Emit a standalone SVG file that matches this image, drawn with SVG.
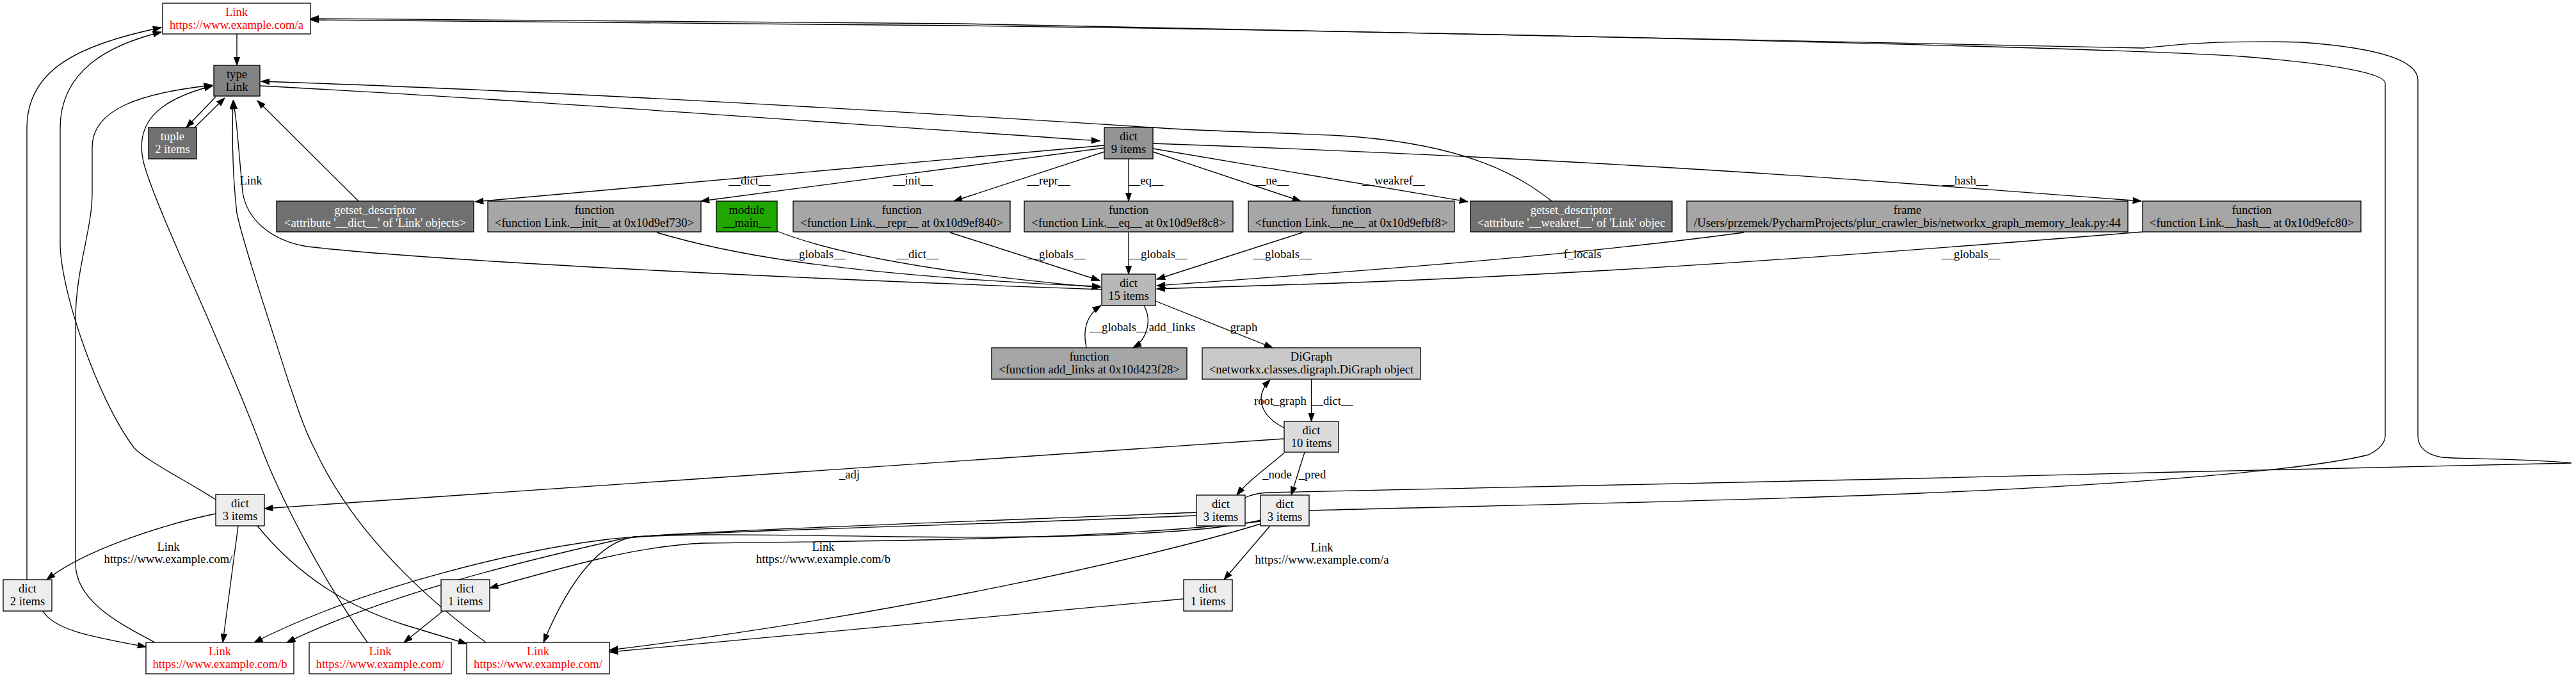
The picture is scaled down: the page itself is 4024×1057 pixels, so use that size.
<svg xmlns="http://www.w3.org/2000/svg" width="4024" height="1057" viewBox="0 0 4024 1057">
<style>
text{font-family:"Liberation Serif","Times New Roman",serif;font-size:18.67px;text-anchor:middle;fill:#000}
.n rect{stroke:#000;stroke-width:1.33}
.w text{fill:#fff}
.r text{fill:#f00}
.e path{fill:none;stroke:#000;stroke-width:1.33;marker-end:url(#ah)}
</style>
<defs>
<marker id="ah" viewBox="0 0 14 10" refX="13.3" refY="5" markerWidth="14" markerHeight="10" markerUnits="userSpaceOnUse" orient="auto"><path d="M0,0.33 L13.3,5 L0,9.67z" fill="#000" stroke="#000" stroke-width="1"/></marker>
</defs>
<rect width="4024" height="1057" fill="#fff"/>
<g id="connectors" class="e">
<path d="M370,53 L370,102"/>
<path d="M337,151 L291,199"/>
<path d="M304,199 L351,153"/>
<path d="M560,314 L402,157"/>
<path d="M2424,314 C2380,280 2300,225 2096,212 C1950,205 1880,205 1800,199 C1500,180 900,143 408,127"/>
<path d="M406,134 C800,155 1200,185 1718,220"/>
<path d="M1721,452 C1300,437 700,410 480,385 C420,375 385,340 379,300 L370,200 C368,180 366,170 365,157"/>
<path d="M759,1003 C700,960 560,850 491,700 C470,660 460,620 452,600 C420,500 380,380 370,333 C364,280 362,220 364,157"/>
<path d="M574,1003 C500,900 430,760 405,690 C340,520 250,340 226,260 C206,190 250,155 332,134"/>
<path d="M242,1003 C190,975 118,940 118,880 L118,500 C118,420 144,360 144,300 L144,230 C144,170 220,145 332,133"/>
<path d="M337,780 C290,750 230,720 210,700 C150,620 94,450 94,380 L94,200 C94,110 170,70 252,50"/>
<path d="M42,905 L42,200 C42,110 120,70 252,43"/>
<path d="M1725,227 L742,315"/>
<path d="M1725,231 L1095,314"/>
<path d="M1725,237 L1490,314"/>
<path d="M1763,248 L1763,314"/>
<path d="M1801,237 L2032,314"/>
<path d="M1801,232 L2293,315"/>
<path d="M1801,224 C2200,238 2600,258 3000,288 L3345,314"/>
<path d="M1026,363 C1150,400 1300,420 1500,435 C1600,442 1680,446 1719,447"/>
<path d="M1214,361 C1300,395 1450,425 1719,449"/>
<path d="M1484,363 L1718,438"/>
<path d="M1763,363 L1763,428"/>
<path d="M2035,363 L1807,436"/>
<path d="M2724,363 C2450,400 2100,425 1807,446"/>
<path d="M3347,362 C3000,390 2500,430 2000,445 L1807,451"/>
<path d="M1787,477 C1800,500 1792,530 1770,543"/>
<path d="M1697,543 C1690,510 1700,490 1720,477"/>
<path d="M1805,470 L1988,543"/>
<path d="M2048.5,592 L2048.5,658"/>
<path d="M2006,668 C1970,650 1958,620 1984,593"/>
<path d="M2006,685 L413,794"/>
<path d="M2006,707 C1980,730 1950,750 1932,773"/>
<path d="M2038,706 L2017,773"/>
<path d="M1984,821 L1912,905"/>
<path d="M692,954 L631,1003"/>
<path d="M337,802 C250,820 130,860 73,905"/>
<path d="M67,954 C85,985 150,995 228,1010"/>
<path d="M372,821 L348,1003"/>
<path d="M402,821 C450,880 520,940 630,975 L729,1005"/>
<path d="M1869,800 C1500,815 1050,830 950,842 C800,860 560,920 397,1003"/>
<path d="M1969,812 C1900,830 1700,842 1400,838 C1150,834 1000,832 960,844 C800,880 600,930 448,1003"/>
<path d="M1869,805 C1500,820 1100,830 990,838 C950,845 900,880 849,1003"/>
<path d="M1969,818 C1800,870 1400,960 952,1015"/>
<path d="M1849,935 L952,1018"/>
<path d="M1969,814 C1700,845 1300,845 1100,848 C1000,852 900,880 765,918"/>
<path d="M2045,797 C2300,790 2700,783 3000,770 C3300,758 3600,735 3700,710 C3720,700 3726,690 3726,680 L3726,130 C3726,115 3650,100 3500,88 C3300,75 2300,50 1500,40 C1000,34 700,31 485,31"/>
<path d="M1945,777 C1955,772 1965,770 1980,769 C2300,762 2900,750 3400,737 C3700,731 3900,727 4017,723 C3950,716 3850,717 3815,714 C3790,710 3777,698 3777,680 L3777,125 C3777,95 3720,75 3595,66 C3450,62 3380,72 3348,75 C3000,62 2300,48 1500,37 C1000,31 700,29 485,29"/>
</g>
<g id="edge-labels">
<text x="392" y="288">Link</text>
<text x="1171" y="288">__dict__</text>
<text x="1426" y="288">__init__</text>
<text x="1638" y="288">__repr__</text>
<text x="1790" y="288">__eq__</text>
<text x="1986" y="288">__ne__</text>
<text x="2177" y="288">__weakref__</text>
<text x="3070" y="288">__hash__</text>
<text x="1275" y="403">__globals__</text>
<text x="1433" y="403">__dict__</text>
<text x="1650" y="403">__globals__</text>
<text x="1809" y="403">__globals__</text>
<text x="2003" y="403">__globals__</text>
<text x="2472" y="403">f_locals</text>
<text x="3079" y="403">__globals__</text>
<text x="1748" y="517">__globals__</text>
<text x="1831" y="517">add_links</text>
<text x="1943" y="517">graph</text>
<text x="2000" y="632">root_graph</text>
<text x="2081" y="632">__dict__</text>
<text x="1327" y="747">_adj</text>
<text x="1995" y="747">_node</text>
<text x="2050" y="747">_pred</text>
<text x="263" y="860">Link</text>
<text x="263" y="879">https://www.example.com/</text>
<text x="1286" y="860">Link</text>
<text x="1286" y="879">https://www.example.com/b</text>
<text x="2065" y="861">Link</text>
<text x="2065" y="880">https://www.example.com/a</text>
</g>
<g id="link_a" class="n r"><rect x="254" y="5" width="231" height="48" fill="#fff"/><text x="369.5" y="25">Link</text><text x="369.5" y="45">https://www.example.com/a</text></g>
<g id="type_link" class="n"><rect x="334" y="102" width="72" height="48" fill="#828282"/><text x="370" y="122">type</text><text x="370" y="142">Link</text></g>
<g id="tuple" class="n w"><rect x="232" y="199" width="75" height="49" fill="#707070"/><text x="269.5" y="219">tuple</text><text x="269.5" y="239">2 items</text></g>
<g id="getset_dict" class="n w"><rect x="432" y="314" width="308" height="48" fill="#707070"/><text x="586" y="334">getset_descriptor</text><text x="586" y="354">&lt;attribute '__dict__' of 'Link' objects&gt;</text></g>
<g id="func_init" class="n"><rect x="762" y="314" width="333" height="48" fill="#a6a6a6"/><text x="928.5" y="334">function</text><text x="928.5" y="354">&lt;function Link.__init__ at 0x10d9ef730&gt;</text></g>
<g id="module_main" class="n"><rect x="1119" y="314" width="95" height="48" fill="#21a600"/><text x="1166.5" y="334">module</text><text x="1166.5" y="354">__main__</text></g>
<g id="func_repr" class="n"><rect x="1239" y="314" width="339" height="48" fill="#a6a6a6"/><text x="1408.5" y="334">function</text><text x="1408.5" y="354">&lt;function Link.__repr__ at 0x10d9ef840&gt;</text></g>
<g id="func_eq" class="n"><rect x="1600" y="314" width="326" height="48" fill="#a6a6a6"/><text x="1763" y="334">function</text><text x="1763" y="354">&lt;function Link.__eq__ at 0x10d9ef8c8&gt;</text></g>
<g id="func_ne" class="n"><rect x="1950" y="314" width="322" height="48" fill="#a6a6a6"/><text x="2111" y="334">function</text><text x="2111" y="354">&lt;function Link.__ne__ at 0x10d9efbf8&gt;</text></g>
<g id="getset_weakref" class="n w"><rect x="2297" y="314" width="315" height="48" fill="#707070"/><text x="2454.5" y="334">getset_descriptor</text><text x="2454.5" y="354">&lt;attribute '__weakref__' of 'Link' objec</text></g>
<g id="frame" class="n"><rect x="2635" y="314" width="689" height="48" fill="#a6a6a6"/><text x="2979.5" y="334">frame</text><text x="2979.5" y="354">/Users/przemek/PycharmProjects/plur_crawler_bis/networkx_graph_memory_leak.py:44</text></g>
<g id="func_hash" class="n"><rect x="3347" y="314" width="341" height="48" fill="#a6a6a6"/><text x="3517.5" y="334">function</text><text x="3517.5" y="354">&lt;function Link.__hash__ at 0x10d9efc80&gt;</text></g>
<g id="dict9" class="n"><rect x="1725" y="199" width="76" height="49" fill="#949494"/><text x="1763" y="219">dict</text><text x="1763" y="239">9 items</text></g>
<g id="dict15" class="n"><rect x="1721" y="428" width="84" height="49" fill="#b8b8b8"/><text x="1763" y="448">dict</text><text x="1763" y="468">15 items</text></g>
<g id="func_add_links" class="n"><rect x="1549" y="543" width="305" height="49" fill="#a6a6a6"/><text x="1701.5" y="563">function</text><text x="1701.5" y="583">&lt;function add_links at 0x10d423f28&gt;</text></g>
<g id="digraph" class="n"><rect x="1878" y="543" width="341" height="49" fill="#c9c9c9"/><text x="2048.5" y="563">DiGraph</text><text x="2048.5" y="583">&lt;networkx.classes.digraph.DiGraph object</text></g>
<g id="dict10" class="n"><rect x="2006" y="658" width="85" height="48" fill="#dbdbdb"/><text x="2048.5" y="678">dict</text><text x="2048.5" y="698">10 items</text></g>
<g id="dict3_adj" class="n"><rect x="337" y="772" width="76" height="49" fill="#ededed"/><text x="375" y="792">dict</text><text x="375" y="812">3 items</text></g>
<g id="dict3_node" class="n"><rect x="1869" y="773" width="76" height="48" fill="#ededed"/><text x="1907" y="793">dict</text><text x="1907" y="813">3 items</text></g>
<g id="dict3_pred" class="n"><rect x="1969" y="773" width="76" height="48" fill="#ededed"/><text x="2007" y="793">dict</text><text x="2007" y="813">3 items</text></g>
<g id="dict2" class="n"><rect x="5" y="905" width="76" height="49" fill="#ededed"/><text x="43" y="925">dict</text><text x="43" y="945">2 items</text></g>
<g id="dict1_left" class="n"><rect x="689" y="905" width="76" height="49" fill="#ededed"/><text x="727" y="925">dict</text><text x="727" y="945">1 items</text></g>
<g id="dict1_right" class="n"><rect x="1849" y="905" width="76" height="49" fill="#ededed"/><text x="1887" y="925">dict</text><text x="1887" y="945">1 items</text></g>
<g id="link_b" class="n r"><rect x="228" y="1003" width="231" height="49" fill="#fff"/><text x="343.5" y="1023">Link</text><text x="343.5" y="1043">https://www.example.com/b</text></g>
<g id="link_mid" class="n r"><rect x="483" y="1003" width="222" height="49" fill="#fff"/><text x="594" y="1023">Link</text><text x="594" y="1043">https://www.example.com/</text></g>
<g id="link_right" class="n r"><rect x="729" y="1003" width="223" height="49" fill="#fff"/><text x="840.5" y="1023">Link</text><text x="840.5" y="1043">https://www.example.com/</text></g>
</svg>
